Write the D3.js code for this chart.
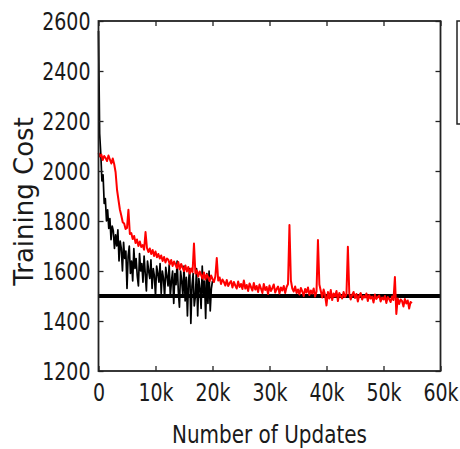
<!DOCTYPE html>
<meta charset="utf-8">
<style>
body { margin: 0; background: #fff; }
text { font-family: "DejaVu Sans", sans-serif; fill: #1a1a1a; }
</style>
<body>
<script src="https://d3js.org/d3.v7.min.js"></script>
<script>

// cost logged every N updates
var blackStep = 200;
var blackCost = [
  2560, 2150, 2070, 1960, 1985, 1870, 1890, 1800, 1845, 1770,
  1810, 1725, 1780, 1760, 1690, 1745, 1700, 1765, 1640, 1720,
  1690, 1600, 1715, 1650, 1680, 1530, 1660, 1700, 1590, 1640,
  1560, 1690, 1610, 1650, 1580, 1540, 1670, 1600, 1630, 1555,
  1660, 1590, 1520, 1640, 1600, 1570, 1645, 1530, 1610, 1580,
  1500, 1620, 1590, 1555, 1630, 1510, 1600, 1570, 1495, 1615,
  1580, 1540, 1625, 1500, 1560, 1600, 1470, 1590, 1545, 1640,
  1520, 1455, 1600, 1560, 1500, 1620, 1480, 1575, 1420, 1560,
  1610, 1390, 1540, 1590, 1460, 1500, 1610, 1420, 1570, 1530,
  1450, 1620, 1500, 1560, 1410, 1590, 1470, 1600, 1440, 1530,
  1560
];

var redStep = 250;
var redCost = [
  2072, 2058, 2066, 2044, 2060, 2052, 2040, 2062, 2046, 2030,
  2050, 2028, 1995, 1925, 1885, 1846, 1822, 1795, 1790, 1768,
  1772, 1845, 1748, 1752, 1728, 1740, 1712, 1726, 1700, 1718,
  1696, 1704, 1685, 1756, 1692, 1676, 1690, 1668, 1684, 1660,
  1678, 1655, 1668, 1650, 1662, 1640, 1656, 1634, 1650, 1645,
  1626, 1644, 1620, 1638, 1626, 1612, 1636, 1606, 1628, 1614,
  1600, 1622, 1598, 1616, 1590, 1610, 1596, 1710, 1590, 1602,
  1578, 1598, 1584, 1570, 1594, 1566, 1586, 1574, 1560, 1582,
  1568, 1556, 1578, 1652, 1562, 1574, 1548, 1566, 1556, 1542,
  1564, 1540, 1552, 1560, 1534, 1556, 1542, 1530, 1558, 1536,
  1548, 1528, 1562, 1530, 1544, 1520, 1550, 1536, 1522, 1552,
  1526, 1540, 1516, 1546, 1530, 1512, 1548, 1524, 1536, 1508,
  1542, 1520, 1532, 1546, 1514, 1528, 1538, 1510, 1534, 1522,
  1540, 1512, 1536, 1548, 1784, 1562, 1530, 1518, 1538, 1512,
  1526, 1506, 1532, 1518, 1500, 1528, 1514, 1534, 1504, 1522,
  1510, 1530, 1498, 1518, 1724, 1546, 1520, 1494, 1526, 1504,
  1462, 1516, 1490, 1524, 1484, 1510, 1498, 1520, 1480, 1512,
  1500, 1490, 1516, 1496, 1506, 1697, 1510, 1486, 1504, 1516,
  1492, 1508, 1478, 1502, 1512, 1486, 1500, 1494, 1510, 1480,
  1504, 1490, 1498, 1474, 1506, 1488, 1496, 1502, 1478, 1494,
  1486, 1500, 1472, 1496, 1488, 1476, 1498, 1484, 1576, 1428,
  1490, 1468, 1486, 1480, 1458, 1488, 1470, 1482, 1450, 1476,
  1472
];

var baselineCost = 1500;
var xTicks = [0, 10000, 20000, 30000, 40000, 50000, 60000];
var xTickLabels = ["0", "10k", "20k", "30k", "40k", "50k", "60k"];
var yTicks = [1200, 1400, 1600, 1800, 2000, 2200, 2400, 2600];

var margin = {top: 21, left: 98.5},
    width = 342,
    height = 350;

var x = d3.scaleLinear().domain([0, 60000]).range([0, width]);
var y = d3.scaleLinear().domain([1200, 2600]).range([height, 0]);

var svg = d3.select("body").append("svg")
    .attr("width", 460)
    .attr("height", 449);

var g = svg.append("g")
    .attr("transform", "translate(" + margin.left + "," + margin.top + ")");

var line = d3.line()
    .x(function(d) { return x(d[0]); })
    .y(function(d) { return y(d[1]); });

var blackData = blackCost.map(function(v, i) { return [i * blackStep, v]; });
var redData = redCost.map(function(v, i) { return [i * redStep, v]; });

// reference level
g.append("line")
    .attr("x1", 0).attr("x2", width)
    .attr("y1", y(baselineCost)).attr("y2", y(baselineCost))
    .attr("stroke", "#000")
    .attr("stroke-width", 4);

g.append("path")
    .datum(blackData)
    .attr("fill", "none")
    .attr("stroke", "#000")
    .attr("stroke-width", 1.7)
    .attr("stroke-linejoin", "round")
    .attr("d", line);

g.append("path")
    .datum(redData)
    .attr("fill", "none")
    .attr("stroke", "#ff0000")
    .attr("stroke-width", 2)
    .attr("stroke-linejoin", "round")
    .attr("d", line);

// axes, ticks pointing inward on all sides
var xAxis = g.append("g")
    .attr("transform", "translate(0," + height + ")")
    .call(d3.axisBottom(x).tickValues(xTicks).tickSizeInner(-5).tickSizeOuter(0)
      .tickFormat(function(d, i) { return xTickLabels[i]; }));
xAxis.selectAll("text")
    .attr("y", 23).attr("dy", null)
    .attr("transform", "scale(1,1.3)")
    .style("font-size", "19px");

g.append("g")
    .call(d3.axisTop(x).tickValues(xTicks).tickSizeInner(-5).tickSizeOuter(0).tickFormat(""));

var yAxis = g.append("g")
    .call(d3.axisLeft(y).tickValues(yTicks).tickSizeInner(-5).tickSizeOuter(0)
      .tickPadding(8).tickFormat(d3.format("d")));
yAxis.selectAll("text")
    .attr("dy", "0.36em")
    .attr("transform", "scale(1,1.3)")
    .style("font-size", "19px");

g.append("g")
    .attr("transform", "translate(" + width + ",0)")
    .call(d3.axisRight(y).tickValues(yTicks).tickSizeInner(-5).tickSizeOuter(0).tickFormat(""));

g.selectAll(".domain").remove();
g.selectAll(".tick line").attr("stroke", "#222").attr("stroke-width", 1.3);

// frame
g.append("rect")
    .attr("width", width).attr("height", height)
    .attr("fill", "none")
    .attr("stroke", "#222")
    .attr("stroke-width", 1.8);

// axis labels
svg.append("text")
    .attr("transform", "translate(269.5,443) scale(1,1.25)")
    .attr("text-anchor", "middle")
    .style("font-size", "20px")
    .text("Number of Updates");

svg.append("text")
    .attr("transform", "translate(33,201.5) rotate(-90)")
    .attr("text-anchor", "middle")
    .style("font-size", "26px")
    .text("Training Cost");

// legend box, mostly cut off at the right edge
svg.append("rect")
    .attr("x", 457).attr("y", 21)
    .attr("width", 30).attr("height", 103)
    .attr("fill", "none")
    .attr("stroke", "#222")
    .attr("stroke-width", 1.5);

</script>
</body>
